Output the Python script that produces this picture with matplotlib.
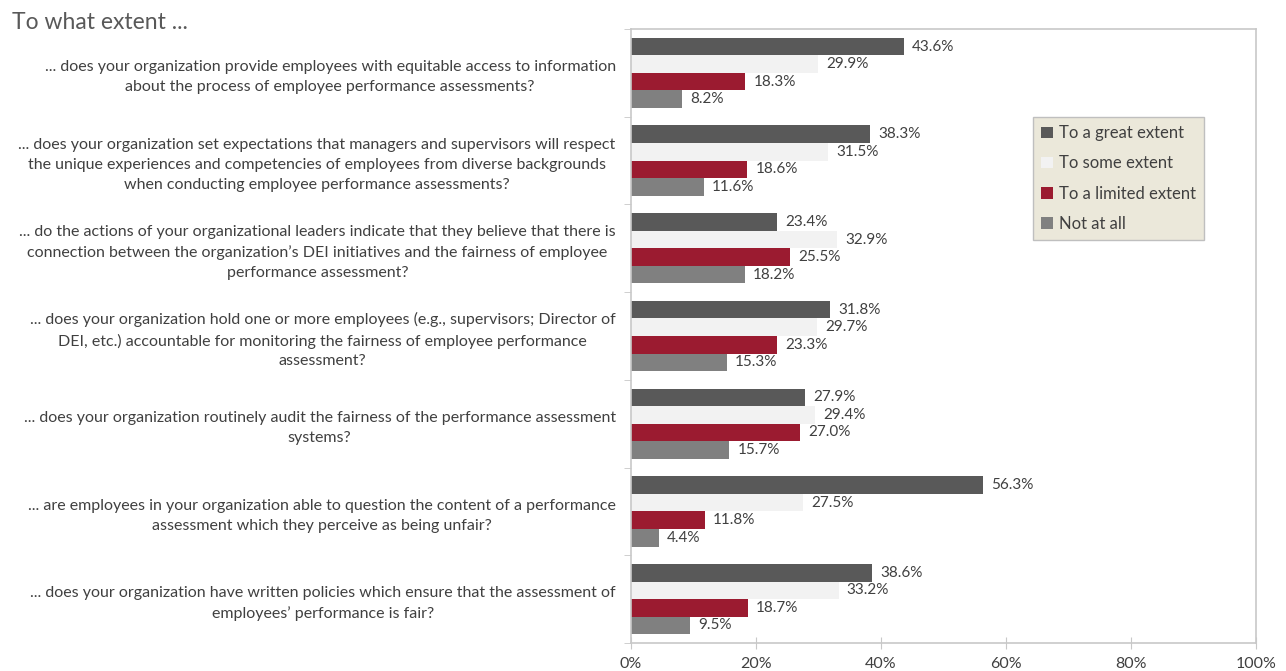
import matplotlib
matplotlib.use("Agg")
import matplotlib.pyplot as plt
import numpy as np

plt.rcParams['font.family'] = ['Lato', 'DejaVu Sans']

questions = [
    "... does your organization provide employees with equitable access to information\nabout the process of employee performance assessments?",
    "... does your organization set expectations that managers and supervisors will respect\nthe unique experiences and competencies of employees from diverse backgrounds\nwhen conducting employee performance assessments?",
    "... do the actions of your organizational leaders indicate that they believe that there is\nconnection between the organization\u2019s DEI initiatives and the fairness of employee\nperformance assessment?",
    "... does your organization hold one or more employees (e.g., supervisors; Director of\nDEI, etc.) accountable for monitoring the fairness of employee performance\nassessment?",
    "... does your organization routinely audit the fairness of the performance assessment\nsystems?",
    "... are employees in your organization able to question the content of a performance\nassessment which they perceive as being unfair?",
    "... does your organization have written policies which ensure that the assessment of\nemployees\u2019 performance is fair?",
]
series_names = ["To a great extent", "To some extent", "To a limited extent", "Not at all"]
great = [43.6, 38.3, 23.4, 31.8, 27.9, 56.3, 38.6]
some = [29.9, 31.5, 32.9, 29.7, 29.4, 27.5, 33.2]
limited = [18.3, 18.6, 25.5, 23.3, 27.0, 11.8, 18.7]
notatall = [8.2, 11.6, 18.2, 15.3, 15.7, 4.4, 9.5]
x_ticks = [0, 20, 40, 60, 80, 100]
x_tick_labels = ["0%", "20%", "40%", "60%", "80%", "100%"]

colors = ["#595959", "#f2f2f2", "#9b1b30", "#808080"]
text_color = "#404040"
spine_color = "#c8c8c8"

fig = plt.figure(figsize=(12.86, 6.71), dpi=100)
ax = fig.add_axes([631/1286, 1-643/671, (1256-631)/1286, (643-29)/671])

y = np.arange(len(questions))
h = 0.2
offsets = [-0.3, -0.1, 0.1, 0.3]
for vals, name, c, off in zip([great, some, limited, notatall], series_names, colors, offsets):
    bars = ax.barh(y + off, vals, height=h, color=c, label=name, edgecolor='none')
    ax.bar_label(bars, labels=[f"{v:.1f}%" for v in vals], padding=6,
                 fontsize=11, color=text_color)

ax.set_xlim(0, 100)
ax.set_ylim(len(questions) - 0.5, -0.5)
ax.set_xticks(x_ticks)
ax.set_xticklabels(x_tick_labels, fontsize=11.5, color=text_color)
ax.set_yticks(y)
ax.set_yticklabels(questions, fontsize=11.5, color=text_color, multialignment='center',
                   linespacing=1.52)
ax.set_yticks(np.arange(-0.5, len(questions) + 0.5, 1), minor=True)
ax.tick_params(axis='y', which='major', length=0, pad=11)
ax.tick_params(axis='y', which='minor', length=5, color=spine_color, direction='out')
ax.tick_params(axis='x', which='major', length=8, color=spine_color, direction='inout', pad=6)
for s in ax.spines.values():
    s.set_color(spine_color)
    s.set_linewidth(1.2)

fig.text(12/1286, 1-12/671, "To what extent ...", fontsize=16.5, color="#595959",
         ha='left', va='top')

leg = ax.legend(loc='upper left', bbox_to_anchor=(1033/1286, 1-117/671),
                bbox_transform=fig.transFigure, fontsize=12, frameon=True,
                fancybox=False, handlelength=0.7, handleheight=0.7,
                handletextpad=0.35, labelspacing=0.85, borderpad=0.5,
                borderaxespad=0)
leg.get_frame().set_facecolor("#ebe8da")
leg.get_frame().set_edgecolor("#bfbfbf")
leg.get_frame().set_alpha(1)
for t in leg.get_texts():
    t.set_color(text_color)

fig.savefig("out.png", dpi=100)
